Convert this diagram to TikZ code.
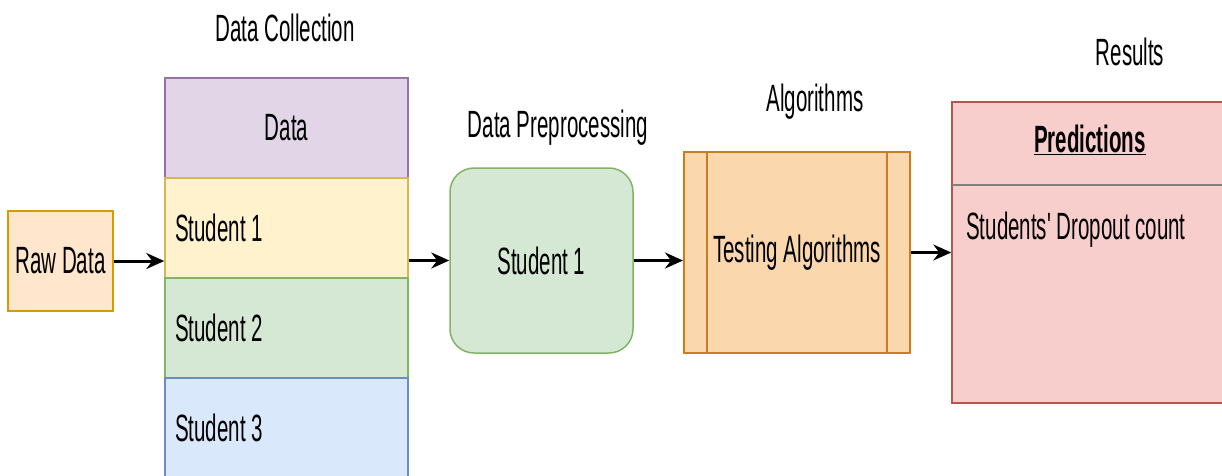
\documentclass[tikz,border=0pt]{standalone}
\usepackage{fontspec}
\setmainfont{Liberation Sans}[FakeStretch=0.54]
\newfontfamily\plainfont{Liberation Sans}[FakeStretch=0.54]
\usepackage{tikz}
\usetikzlibrary{arrows.meta}
\definecolor{rawFill}{RGB}{255, 230, 204}
\definecolor{rawLine}{RGB}{215, 155, 0}
\definecolor{headFill}{RGB}{225, 213, 231}
\definecolor{headLine}{RGB}{150, 115, 166}
\definecolor{yelFill}{RGB}{255, 242, 204}
\definecolor{yelLine}{RGB}{214, 182, 86}
\definecolor{grnFill}{RGB}{213, 232, 212}
\definecolor{grnLine}{RGB}{130, 179, 102}
\definecolor{bluFill}{RGB}{218, 232, 252}
\definecolor{bluLine}{RGB}{108, 142, 191}
\definecolor{algFill}{RGB}{250, 215, 172}
\definecolor{algLine}{RGB}{200, 125, 30}
\definecolor{redFill}{RGB}{248, 206, 204}
\definecolor{redLine}{RGB}{184, 84, 80}
\newcommand{\rowtext}[1]{\makebox[223pt][l]{#1}}

\begin{document}
\begin{tikzpicture}[x=1pt, y=-1pt, font=\fontsize{38}{42}\selectfont,
    cell/.style={draw=#1Line, fill=#1Fill, line width=1.5pt, minimum width=243pt, minimum height=100pt},
    rowcell/.style={cell=#1, inner xsep=10pt},
    flow/.style={-{Stealth[length=18pt, width=16pt, inset=6pt]}, line width=3pt}]
        \useasboundingbox (0,0) rectangle (1222,475);
        % titles
        \node (tCollect) at (285,28) {Data Collection};
        \node (tPrep) at (558,128) {Data Preprocessing};
        \node (tAlgo) at (815,102) {Algorithms};
        \node (tRes) at (1130,52) {Results};
        % boxes
        \node[draw=rawLine, fill=rawFill, line width=1.5pt, minimum width=105pt, minimum height=100pt, inner sep=2pt] (raw) at (60.5,261) {Raw Data};
        \node[cell=head] (dataHead) at (286.5,128) {Data};
        \node[rowcell=yel] (stud1) at (286.5,228) {\rowtext{Student 1}};
        \node[rowcell=grn] (stud2) at (286.5,328) {\rowtext{Student 2}};
        \node[rowcell=blu] (stud3) at (286.5,428) {\rowtext{Student 3}};
        \node[draw=grnLine, fill=grnFill, line width=1.5pt, rounded corners=24pt, minimum width=183pt, minimum height=185pt] (prep) at (541.5,260.5) {Student 1};
        \node[draw=algLine, fill=algFill, line width=2pt, minimum width=226pt, minimum height=201pt] (algo) at (797,252.5) {Testing Algorithms};
        \draw[algLine, line width=1.5pt] (707,152) -- (707,353) (887,152) -- (887,353);
        \node[draw=redLine, fill=redFill, line width=1.5pt, minimum width=290pt, minimum height=301pt] (pred) at (1097,252.5) {};
        \draw[gray, line width=1.5pt] (952,185) -- (1232,185);
        \node[font=\fontsize{38}{42}\selectfont\bfseries] (predTitle) at (1090,140) {\underline{Predictions}};
        \node[anchor=west, inner sep=0pt, font=\fontsize{38}{42}\plainfont] (predText) at (966,230) {Students' Dropout count};
        % connectors
        \draw[flow] (raw.east) -- (raw.east -| stud1.west);
        \draw[flow] (prep.west -| stud1.east) -- (prep.west);
        \draw[flow] (prep.east) -- (prep.east -| algo.west);
        \draw[flow] (algo.east) -- (algo.east -| pred.west);
\end{tikzpicture}
\end{document}
